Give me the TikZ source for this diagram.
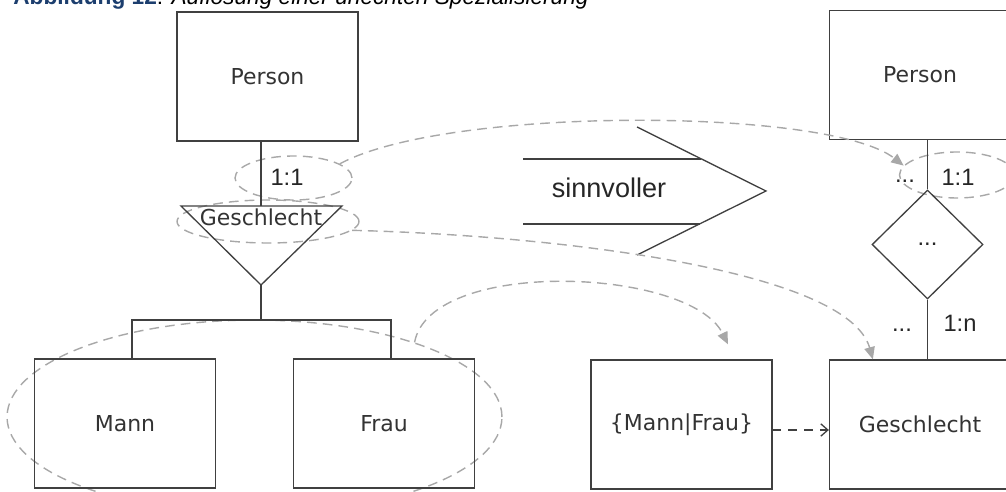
\documentclass[tikz,border=0pt]{standalone}
\usepackage{fontspec}
\setmainfont{Liberation Sans}
\newfontfamily\boxfont{DejaVu Sans}
\usetikzlibrary{arrows.meta,shapes.geometric}
\definecolor{linegray}{RGB}{64,64,64}
\definecolor{hintgray}{RGB}{168,168,168}
\definecolor{titleblue}{RGB}{28,62,110}

\begin{document}
\begin{tikzpicture}[x=0.02cm,y=-0.02cm,
  entity/.style={draw=linegray,line width=0.75pt,minimum width=3.62cm,minimum height=2.58cm,inner sep=0pt,font=\boxfont\fontsize{12.5}{15}\selectfont,text=black!80},
  card/.style={font=\fontsize{13.5}{16}\selectfont,text=black!85,inner sep=0pt},
  link/.style={draw=linegray,line width=0.75pt},
  hint/.style={draw=hintgray,line width=0.8pt,dash pattern=on 5.5pt off 3.5pt},
  hintring/.style={hint,shape=ellipse,inner sep=0pt},
  hintarrow/.style={hint,-{Triangle[length=7pt,width=6pt,fill=hintgray]}}]
\useasboundingbox (0,0) rectangle (1006,492);
\clip (0,0) rectangle (1006,492);

\node [anchor=base west,inner sep=0pt,name=title,font=\fontsize{12.9}{15}\selectfont] at (13,4.5)
  {\textcolor{titleblue}{\textbf{Abbildung 12}}: \textit{Auflösung einer unechten Spezialisierung}};

% left: specialisation with triangle
\node [hintring,minimum width=2.34cm,minimum height=0.88cm,name=ring1] at (293.5,178){};
\node [hintring,minimum width=3.64cm,minimum height=0.86cm,name=ring2] at (268,221.5){};
\node [hintring,minimum width=9.9cm,minimum height=3.88cm,name=ring3] at (254.5,417){};
\node [entity,name=person1] at (267.5,76.5){Person};
\node [entity,name=mann] at (125,423.5){Mann};
\node [entity,name=frau] at (384,423.5){Frau};
\coordinate (isal) at (181,206);
\coordinate (isar) at (342,206);
\coordinate (isatop) at (261,206);
\coordinate (isabot) at (261,285);
\coordinate (fork) at (261,320);
\coordinate (forkl) at (132,320);
\coordinate (forkr) at (391,320);
\draw [link] (isal)--(isar)--(isabot)--cycle;
\node [font=\boxfont\fontsize{12.5}{15}\selectfont,text=black!80,inner sep=0pt,name=isa] at (261,217){Geschlecht};
\node [card,name=card1] at (287,177){1:1};
\draw [link] (person1.south -| isatop)--(isatop);
\draw [link] (isabot)--(fork);
\draw [link] (mann.north -| forkl)--(forkl)--(forkr)--(frau.north -| forkr);

% middle arrow
\node [font=\fontsize{15.4}{18}\selectfont,text=black!85,name=sinn] at (609,188){sinnvoller};
\draw [link] (523,159)--(701,159);
\draw [link] (523,224)--(700,224);
\draw [link] (637,127)--(766,191)--(637,255);

% right: relationship with value table
\node [hintring,minimum width=2.3cm,minimum height=0.92cm,name=ring4] at (957,175){};
\node [entity,name=person2] at (920,75){Person};
\node [entity,name=mf] at (681.5,424.5){\{Mann|Frau\}};
\node [entity,name=geschl] at (920,424.5){Geschlecht};
\node [draw=linegray,line width=0.75pt,shape=diamond,aspect=1,minimum width=2.22cm,minimum height=2.18cm,inner sep=0pt,name=rel,card] at (927.5,244.5){...};
\draw [link] (person2.south -| rel.north)--(rel.north);
\draw [link] (rel.south)--(rel.south |- geschl.north);
\node [card,name=card2] at (958,177){1:1};
\node [card,name=card3] at (960,323){1:n};
\node [card,name=dots1] at (905,181){...};
\node [card,name=dots2] at (902,330){...};
\draw [link,dash pattern=on 5pt off 4pt,-{Straight Barb[length=4pt,width=7pt]}] ([yshift=-0.11cm]mf.east)--([yshift=-0.11cm]geschl.west);

% hints
\coordinate (mfin) at ([shift={(0.93cm,0.3cm)}]mf.north);
\draw [hintarrow] (ring1.17) .. controls +(107,-58) and +(-74,-58) .. (ring4.170);
\draw [hintarrow] (ring2.-6) .. controls +(206,5) and +(-25,-89) .. ([xshift=0.88cm]geschl.north west);
\draw [hintarrow] (ring3.25) .. controls +(16,-85) and +(-38,-77) .. (mfin);
\end{tikzpicture}
\end{document}
